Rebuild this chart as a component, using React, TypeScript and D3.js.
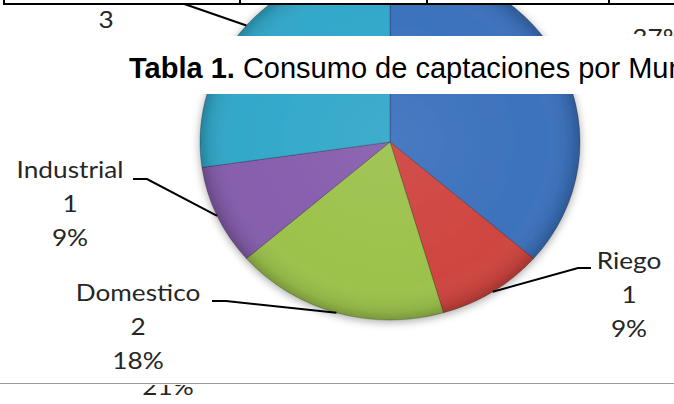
import React from "react";
import * as d3 from "d3";

// ---- data ----
const categories = ["", "Riego", "Domestico", "Industrial", ""];
const values = [4, 1, 2, 1, 3];
const valueLabels = ["4", "1", "2", "1", "3"];
const percentLabels = ["37%", "9%", "18%", "9%", "27%"];
const sliceColors = ["#3C72BD", "#CF4540", "#9CC24C", "#865EAD", "#33A8CA"];
const captionBold = "Tabla 1.";
const captionRest = " Consumo de captaciones por Municipio";
const nextChartPercent = "21%";
const tableColumnEdges = [4, 240, 427, 609];

const W = 674;
const H = 404;

export default function App() {
  const cx = 390;
  const cy = 142;
  const rx = 190;
  const ry = 178;

  const pie = d3
    .pie<number>()
    .sort(null)
    .startAngle(0)
    .endAngle(2 * Math.PI)
    .value((d) => d);
  const arcs = pie(values);
  const arcGen = d3.arc<d3.PieArcDatum<number>>().innerRadius(0).outerRadius(rx);

  const edgePoint = (a: d3.PieArcDatum<number>) => {
    const m = (a.startAngle + a.endAngle) / 2;
    return [cx + rx * Math.sin(m), cy - ry * Math.cos(m)];
  };

  const labelFont = "Lato, 'Open Sans', sans-serif";
  const lh = 34;
  const sx = 1.14;

  // label layout: centre x, first baseline, leader elbow
  const layouts: Record<number, { x: number; y: number; ex0: number; ex1: number; ey: number }> = {
    1: { x: 629, y: 269, ex0: 591, ex1: 578, ey: 268 },
    2: { x: 138, y: 301, ex0: 212, ex1: 226, ey: 301 },
    3: { x: 70, y: 178, ex0: 133, ex1: 147, ey: 179 },
  };

  const cyanEdge = edgePoint(arcs[4]);

  const Label = ({ x, y, lines }: { x: number; y: number; lines: string[] }) => (
    <g transform={`translate(${x},0) scale(${sx},1)`}>
      <text textAnchor="middle" fontFamily={labelFont} fontSize={23} fill="#262626">
        {lines.map((t, k) => (
          <tspan key={k} x={0} y={y + k * lh}>
            {t}
          </tspan>
        ))}
      </text>
    </g>
  );

  return (
    <div style={{ position: "fixed", left: 0, top: 0 }}>
      <svg width={W} height={H} style={{ display: "block", background: "#fff" }}>
        <defs>
          <radialGradient id="rim" cx="50%" cy="50%" r="50%">
            <stop offset="0%" stopColor="#fff" stopOpacity={0.06} />
            <stop offset="80%" stopColor="#fff" stopOpacity={0} />
            <stop offset="95%" stopColor="#000" stopOpacity={0.08} />
            <stop offset="100%" stopColor="#000" stopOpacity={0.22} />
          </radialGradient>
          <filter id="shadow" x="-20%" y="-20%" width="140%" height="140%">
            <feDropShadow dx="0" dy="2" stdDeviation="4" floodColor="#000" floodOpacity="0.35" />
          </filter>
          <clipPath id="belowLine">
            <rect x={0} y={385} width={W} height={H - 385} />
          </clipPath>
        </defs>

        {/* pie */}
        <g filter="url(#shadow)">
          <g transform={`translate(${cx},${cy}) scale(1,${ry / rx})`}>
            {arcs.map((a, i) => (
              <path
                key={i}
                d={arcGen(a) || ""}
                fill={sliceColors[i]}
                stroke="rgba(0,0,0,0.25)"
                strokeWidth={1}
              />
            ))}
            <circle r={rx} fill="url(#rim)" />
          </g>
        </g>

        {/* leader lines and labels */}
        {arcs.map((a, i) => {
          const L = layouts[i];
          if (!L) return null;
          const [px, py] = edgePoint(a);
          return (
            <g key={i}>
              <polyline
                points={`${L.ex0},${L.ey} ${L.ex1},${L.ey} ${px},${py}`}
                fill="none"
                stroke="#000"
                strokeWidth={2}
              />
              <Label x={L.x} y={L.y} lines={[categories[i], valueLabels[i], percentLabels[i]]} />
            </g>
          );
        })}

        {/* cyan slice label (only its value line is visible) */}
        <line
          x1={cyanEdge[0] - ((cyanEdge[1] - 2) * 55) / 19}
          y1={2}
          x2={cyanEdge[0]}
          y2={cyanEdge[1]}
          stroke="#000"
          strokeWidth={2}
        />
        <Label x={106} y={28} lines={[valueLabels[4]]} />
        {/* blue slice percent, partly hidden */}
        <Label x={658} y={46} lines={[percentLabels[0]]} />

        {/* table bottom border at top of page */}
        <rect x={0} y={0} width={W} height={3} fill="#fff" />
        <line x1={3} y1={4} x2={W} y2={4} stroke="#000" strokeWidth={2} />
        {tableColumnEdges.map((x, i) => (
          <line key={i} x1={x} y1={0} x2={x} y2={4} stroke="#000" strokeWidth={2} />
        ))}

        {/* caption band */}
        <rect x={0} y={36} width={W} height={58} fill="#fff" />
        <text x={129} y={78} fontFamily="'Liberation Sans', Arial, sans-serif" fontSize={29} fill="#000">
          <tspan fontWeight="bold">{captionBold}</tspan>
          <tspan>{captionRest}</tspan>
        </text>

        {/* bottom separator and clipped next chart label */}
        <line x1={0} y1={383.5} x2={W} y2={383.5} stroke="#9a9a9a" strokeWidth={1} />
        <g clipPath="url(#belowLine)">
          <Label x={168} y={395} lines={[nextChartPercent]} />
        </g>
      </svg>
    </div>
  );
}
